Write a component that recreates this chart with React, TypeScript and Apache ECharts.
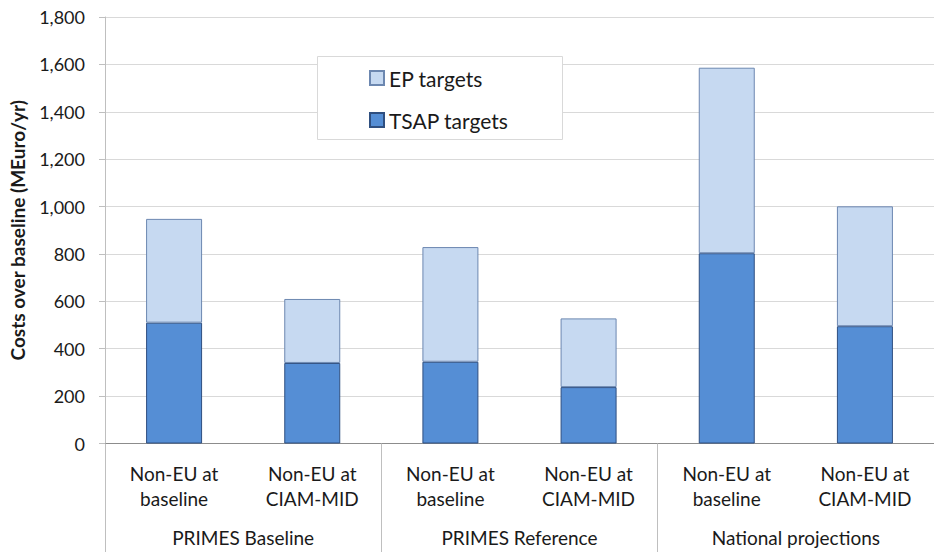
import React, { useEffect, useRef } from "react";
import * as echarts from "echarts";

const categories = [
  "Non-EU at\nbaseline",
  "Non-EU at\nCIAM-MID",
  "Non-EU at\nbaseline",
  "Non-EU at\nCIAM-MID",
  "Non-EU at\nbaseline",
  "Non-EU at\nCIAM-MID",
];
const groups = ["PRIMES Baseline", "PRIMES Reference", "National projections"];
const tsapTargets = [510, 340, 345, 238, 803, 495];
const epTargets = [438, 270, 484, 290, 783, 506];
const yTicks = [0, 200, 400, 600, 800, 1000, 1200, 1400, 1600, 1800];

const FONT = "Lato, 'Noto Sans', sans-serif";

export default function App() {
  const ref = useRef<HTMLDivElement>(null);
  useEffect(() => {
    if (!ref.current) return;
    const chart = echarts.init(ref.current, undefined, { renderer: "svg" });
    chart.setOption({
      animation: false,
      backgroundColor: "#ffffff",
      textStyle: { fontFamily: FONT },
      grid: { left: 105, top: 17, width: 840, height: 426.5, containLabel: false },
      legend: {
        data: ["EP targets", "TSAP targets"],
        orient: "vertical",
        left: 369,
        top: 66,
        padding: 0,
        icon: "rect",
        itemWidth: 14,
        itemHeight: 14,
        itemGap: 18,
        textStyle: { fontSize: 21, color: "#1a1a1a", lineHeight: 24, fontFamily: FONT },
        z: 10,
      },
      graphic: [
        {
          type: "rect",
          shape: { x: 317.5, y: 56.5, width: 245, height: 83 },
          style: { fill: "#ffffff", stroke: "#d9d9d9", lineWidth: 1 },
          z: 9,
        },
      ],
      xAxis: [
        {
          type: "category",
          data: categories,
          position: "bottom",
          axisLine: { show: true, lineStyle: { color: "#8c8c8c", width: 1 } },
          axisTick: { show: false },
          axisLabel: {
            interval: 0,
            fontSize: 19,
            lineHeight: 25,
            color: "#1a1a1a",
            margin: 17,
            fontFamily: FONT,
          },
          splitLine: { show: false },
        },
        {
          type: "category",
          data: groups,
          position: "bottom",
          offset: 0,
          axisLine: { show: false },
          axisTick: {
            show: true,
            length: 110,
            lineStyle: { color: "#bfbfbf", width: 1 },
          },
          axisLabel: {
            interval: 0,
            fontSize: 19,
            lineHeight: 22,
            color: "#1a1a1a",
            margin: 83,
            fontFamily: FONT,
          },
          splitLine: { show: false },
        },
      ],
      yAxis: {
        type: "value",
        min: yTicks[0],
        max: yTicks[yTicks.length - 1],
        interval: 200,
        name: "Costs over baseline (MEuro/yr)",
        nameLocation: "middle",
        nameGap: 78,
        nameTextStyle: { fontSize: 19, fontWeight: "bold", color: "#1a1a1a", fontFamily: FONT },
        axisLine: { show: true, lineStyle: { color: "#bfbfbf", width: 1 } },
        axisTick: { show: true, length: 6, lineStyle: { color: "#bfbfbf" } },
        axisLabel: {
          fontSize: 18,
          color: "#1a1a1a",
          margin: 20,
          fontFamily: FONT,
          formatter: (v: number) => v.toLocaleString("en-US"),
        },
        splitLine: { show: true, lineStyle: { color: "#d9d9d9", width: 1 } },
      },
      series: [
        {
          name: "TSAP targets",
          type: "bar",
          stack: "total",
          data: tsapTargets,
          barWidth: 56,
          itemStyle: { color: "#558ed5", borderColor: "#2f4f80", borderWidth: 1 },
        },
        {
          name: "EP targets",
          type: "bar",
          stack: "total",
          data: epTargets,
          barWidth: 56,
          itemStyle: { color: "#c6d9f1", borderColor: "#6c87b0", borderWidth: 1 },
        },
      ],
    });
    return () => chart.dispose();
  }, []);
  return (
    <div
      ref={ref}
      style={{ position: "fixed", left: 0, top: 0, width: 934, height: 552 }}
    />
  );
}
